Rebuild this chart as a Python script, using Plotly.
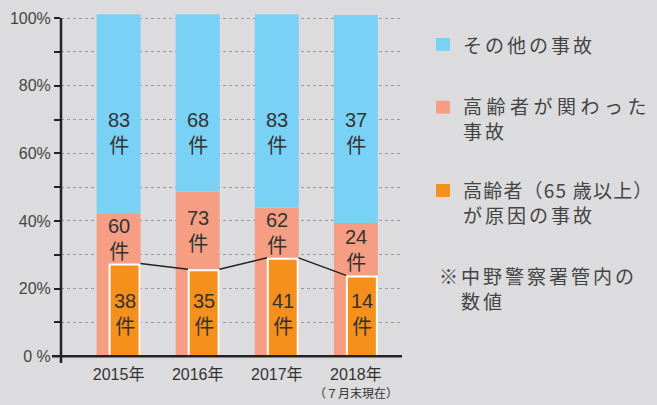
import plotly.graph_objects as go

# ---------------- data ----------------
years = ["2015年", "2016年", "2017年", "2018年"]
year_note = "（７月末現在）"
other_count = [83, 68, 83, 37]      # その他の事故
related_count = [60, 73, 62, 24]    # 高齢者が関わった事故
cause_count = [38, 35, 41, 14]      # 高齢者（65歳以上）が原因の事故
# segment heights as drawn (percent of axis)
related_pct = [42.3, 48.7, 44.0, 39.4]
other_pct = [58.8, 52.4, 57.1, 61.5]
cause_pct = [27.1, 25.4, 28.8, 23.6]
y_tick_vals = [0, 20, 40, 60, 80, 100]
y_tick_text = ["0 %", "20%", "40%", "60%", "80%", "100%"]
legend_items = [
    ["その他の事故"],
    ["高齢者が関わった", "事故"],
    ["高齢者（65 歳以上）", "が原因の事故"],
]
note_lines = ["※中野警察署管内の", "　数値"]

# ---------------- style / layout ----------------
W, H = 657, 405
ML, MR, MT, MB = 61, 255, 10, 42
PW, PH = W - ML - MR, H - MT - MB
Y_RANGE = [-2.0, 101.5]
X_RANGE = [-0.728, 3.583]
BLUE = "#79D1F5"
SALMON = "#F59E84"
ORANGE = "#F5901C"
BG = "#dcdcde"
DARK = "#222222"
TXT = "#333333"
NUM_FONT = "Liberation Sans, Noto Sans CJK JP"
CJK = "Noto Sans CJK JP"
BAR_W = 0.556
OR_W = 0.379
OR_OFF = -0.114
BLUE_LABEL_Y = 66
ORANGE_LABEL_Y = 12.4


def px_x(px):
    return (px - ML) / PW


def px_y(py):
    return 1 - (py - MT) / PH


def val_y(v):
    return (v - Y_RANGE[0]) / (Y_RANGE[1] - Y_RANGE[0])


xs = list(range(len(years)))

fig = go.Figure()
fig.add_trace(go.Bar(x=xs, y=related_pct, width=BAR_W, marker=dict(color=SALMON, line=dict(width=0)),
                     hoverinfo="skip", showlegend=False))
fig.add_trace(go.Bar(x=xs, y=other_pct, base=related_pct, width=BAR_W,
                     marker=dict(color=BLUE, line=dict(width=0)), hoverinfo="skip", showlegend=False))
fig.add_trace(go.Bar(x=xs, y=cause_pct, width=OR_W, offset=OR_OFF,
                     marker=dict(color=ORANGE, line=dict(width=2, color="white")),
                     hoverinfo="skip", showlegend=False))

# connector lines between the orange bars
lx, ly = [], []
right_edge = OR_OFF + OR_W
for i in range(len(xs) - 1):
    lx += [xs[i] + right_edge + 0.01, xs[i + 1] + OR_OFF - 0.01, None]
    ly += [cause_pct[i] + 0.3, cause_pct[i + 1] + 0.3, None]
fig.add_trace(go.Scatter(x=lx, y=ly, mode="lines", line=dict(color=DARK, width=1.5),
                         hoverinfo="skip", showlegend=False))

annotations = []


def bar_label(x, y, n):
    annotations.append(dict(x=x, y=y, xref="x", yref="y", text=f"{n}<br>件", showarrow=False,
                            yanchor="middle", font=dict(family=NUM_FONT, size=20, color=TXT)))


or_center = OR_OFF + OR_W / 2
for i in xs:
    bar_label(xs[i], BLUE_LABEL_Y, other_count[i])
    bar_label(xs[i], (related_pct[i] + cause_pct[i]) / 2, related_count[i])
    bar_label(xs[i] + or_center, ORANGE_LABEL_Y, cause_count[i])

# note under the last year
annotations.append(dict(x=xs[-1], y=px_y(393), xref="x", yref="paper", text=year_note,
                        yanchor="middle", showarrow=False, font=dict(family=CJK, size=12, color=TXT)))

# legend
LEG_TXT = "#444444"
shapes = []
legend_rows = [(41.7, 41.7), (105, 115.9), (189, 200.3)]
colors = [BLUE, SALMON, ORANGE]
spacing = [[3], [4.5, 3], [1.2, 3]]
for lines, (ysq, yc), c, sp in zip(legend_items, legend_rows, colors, spacing):
    shapes.append(dict(type="rect", xref="paper", yref="paper", x0=px_x(436), x1=px_x(450),
                       y0=px_y(ysq - 6.5), y1=px_y(ysq + 6.5), fillcolor=c, line=dict(width=0)))
    txt = "<br>".join(f"<span style='letter-spacing:{s}px'>{t}</span>" for t, s in zip(lines, sp))
    annotations.append(dict(x=px_x(461), y=px_y(yc), xref="paper", yref="paper", xanchor="left",
                            yanchor="middle", align="left", showarrow=False, text=txt,
                            font=dict(family=CJK, size=19, color=LEG_TXT)))
note_txt = "<br>".join(f"<span style='letter-spacing:3px'>{t}</span>" for t in note_lines)
annotations.append(dict(x=px_x(437), y=px_y(287.5), xref="paper", yref="paper", xanchor="left",
                        yanchor="middle", align="left", showarrow=False, text=note_txt,
                        font=dict(family=CJK, size=19, color=LEG_TXT)))

# axis lines
shapes.append(dict(type="line", xref="paper", yref="paper", x0=0, x1=0, y0=0, y1=val_y(100),
                   line=dict(color=DARK, width=2.5), layer="above"))
shapes.append(dict(type="line", xref="paper", yref="paper", x0=px_x(52), x1=1, y0=val_y(0), y1=val_y(0),
                   line=dict(color=DARK, width=2.5), layer="above"))

fig.update_layout(
    width=W, height=H, margin=dict(l=ML, r=MR, t=MT, b=MB),
    paper_bgcolor=BG, plot_bgcolor=BG, barmode="overlay", showlegend=False,
    annotations=annotations, shapes=shapes,
    xaxis=dict(range=X_RANGE, tickvals=xs, ticktext=years, showgrid=False, zeroline=False,
               showline=False, ticks="", tickfont=dict(family="Liberation Sans, Noto Sans CJK JP", size=16, color=TXT)),
    yaxis=dict(range=Y_RANGE, tickvals=y_tick_vals, ticktext=y_tick_text, showgrid=True,
               gridcolor="#9a9a9a", griddash="dot", gridwidth=1, zeroline=False, showline=False,
               ticks="outside", ticklen=6, tickwidth=2, tickcolor=DARK,
               tickfont=dict(family="Liberation Sans, Noto Sans CJK JP", size=16, color="#444444"),
               minor=dict(dtick=10, tick0=0, showgrid=True, gridcolor="#9a9a9a", griddash="dot",
                          gridwidth=1, ticks="outside", ticklen=6, tickwidth=2, tickcolor=DARK)),
)

fig.write_html("out.html")
